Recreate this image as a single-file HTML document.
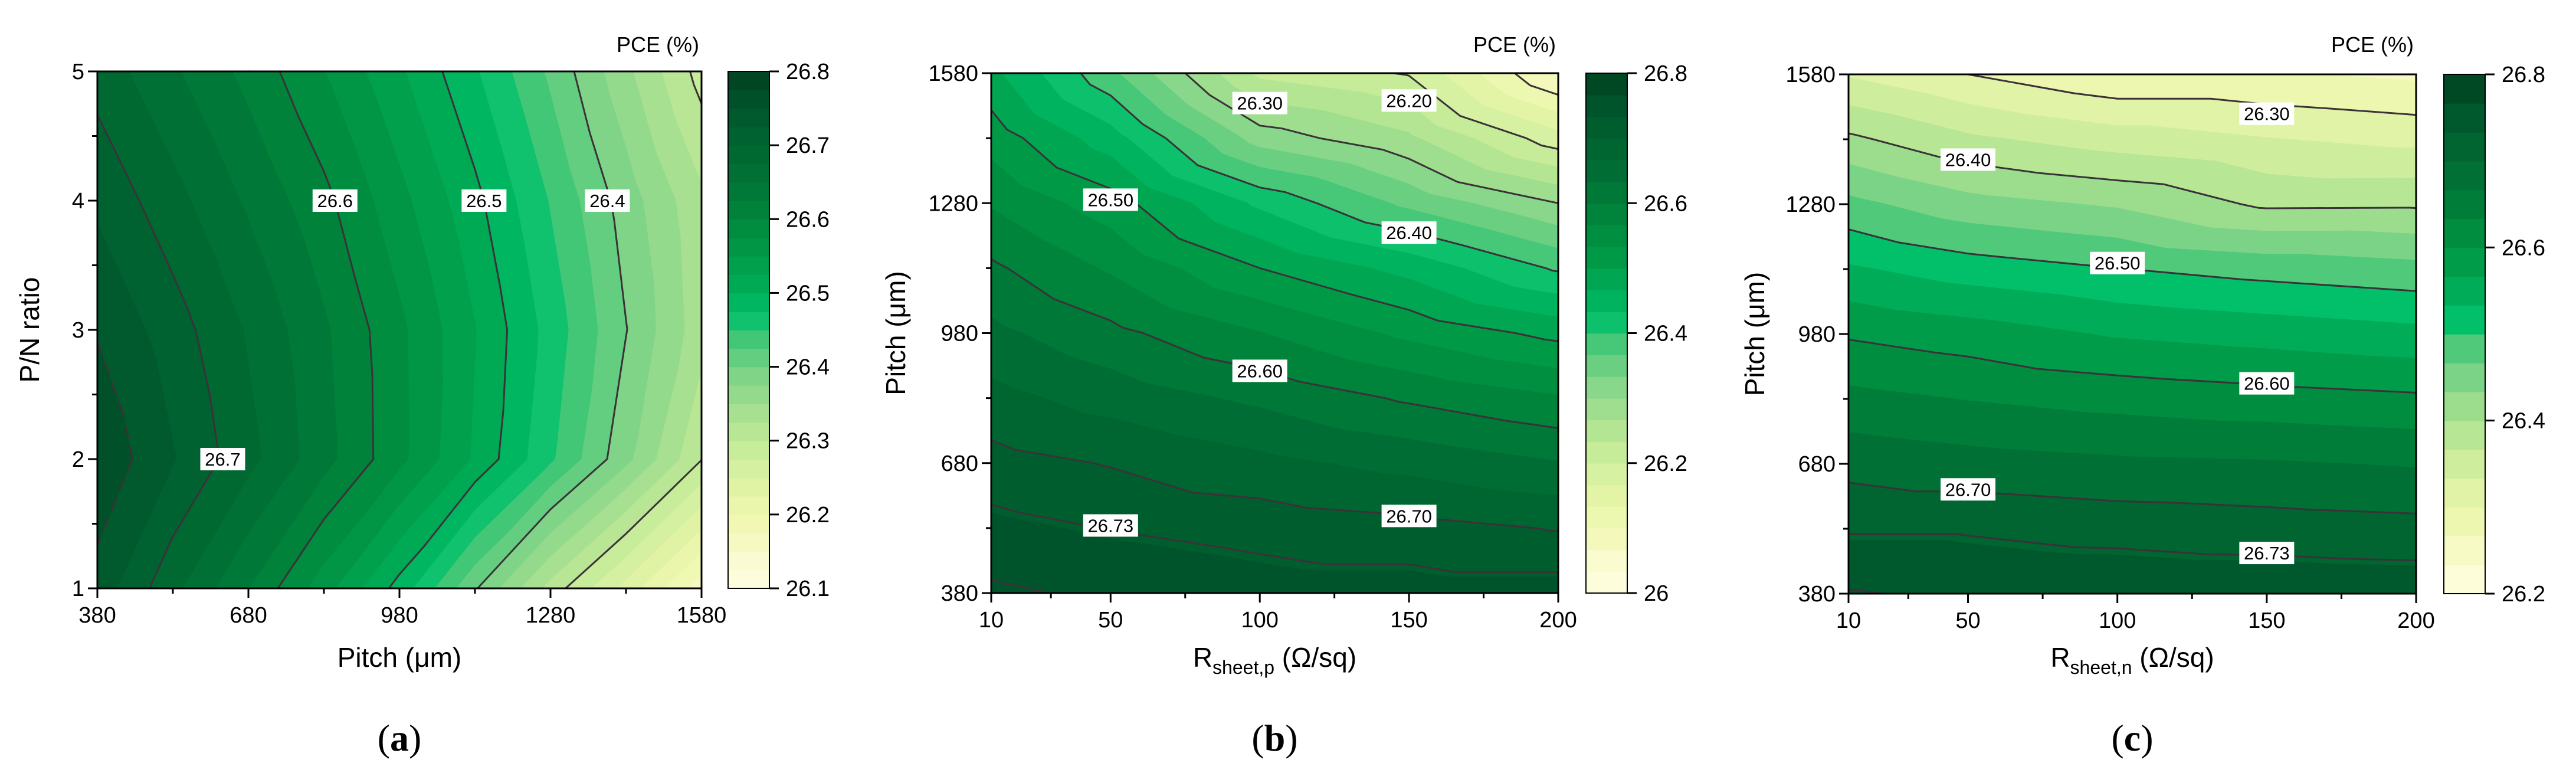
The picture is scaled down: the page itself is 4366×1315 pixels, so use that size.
<!DOCTYPE html>
<html><head><meta charset="utf-8">
<style>
html,body{margin:0;padding:0;background:#fff;}
svg{display:block;}
text{font-family:"Liberation Sans",sans-serif;fill:#000;}
</style></head>
<body>
<svg id="fig" width="4366" height="1315" viewBox="0 0 4366 1315" xmlns="http://www.w3.org/2000/svg">
<rect x="0" y="0" width="4366" height="1315" fill="#fff"/>
</svg>
<script>
// ---------- Panel (a) data ----------
const aX = [380,530,680,830,980,1130,1280,1430,1580];
const aY = [1,2,3,4,5];
const aZ = [
 [26.74,26.682,26.625,26.561,26.49,26.403,26.315,26.24,26.16],
 [26.77,26.727,26.683,26.634,26.582,26.521,26.454,26.382,26.301],
 [26.748,26.712,26.672,26.629,26.581,26.526,26.465,26.401,26.335],
 [26.72,26.684,26.646,26.607,26.558,26.507,26.448,26.388,26.33],
 [26.69,26.654,26.617,26.576,26.529,26.478,26.42,26.356,26.29]
];
const aLevels = [26.3,26.4,26.5,26.6,26.7];
const aDashed = [26.75];
const aXTicks = [380,680,980,1280,1580];
const aYTicks = [1,2,3,4,5];
const aCbTicks = [26.1,26.2,26.3,26.4,26.5,26.6,26.7,26.8];
const aLabelText = ["26.6","26.5","26.4","26.7"];
const aLabelX = [852,1148,1393,629];
const aLabelY = [4,4,4,2];

// ---------- Panel (b) data ----------
const bX = [10,50,100,150,200];
const bY = [380,530,680,830,980,1130,1280,1430,1580];
const bZ = [
 [26.765,26.755,26.745,26.745,26.745],
 [26.74,26.729,26.72,26.711,26.698],
 [26.712,26.698,26.676,26.656,26.635],
 [26.678,26.653,26.626,26.595,26.57],
 [26.642,26.609,26.568,26.525,26.49],
 [26.606,26.562,26.5,26.455,26.395],
 [26.563,26.515,26.426,26.358,26.3],
 [26.519,26.448,26.318,26.273,26.18],
 [26.475,26.375,26.225,26.197,26.06]
];
const bLevels = [26.1,26.2,26.3,26.4,26.5,26.6,26.7,26.73,26.76];
const bXTicks = [10,50,100,150,200];
const bYTicks = [380,680,980,1280,1580];
const bCbTicks = [26,26.2,26.4,26.6,26.8];
const bLabelText = ["26.30","26.20","26.50","26.40","26.60","26.73","26.70"];
const bLabelX = [100,150,50,150,100,50,150];
const bLabelY = [1511,1517,1288,1212,893,536,558];

// ---------- Panel (c) data ----------
const cX = [10,50,100,150,200];
const cY = [380,530,680,830,980,1130,1280,1430,1580];
const cZ = [
 [26.762,26.755,26.753,26.752,26.75],
 [26.727,26.727,26.72,26.715,26.711],
 [26.689,26.68,26.673,26.67,26.664],
 [26.643,26.632,26.621,26.613,26.606],
 [26.596,26.583,26.563,26.553,26.543],
 [26.538,26.517,26.501,26.488,26.478],
 [26.476,26.446,26.429,26.394,26.395],
 [26.407,26.373,26.35,26.335,26.324],
 [26.33,26.3,26.27,26.27,26.26]
];
const cLevels = [26.3,26.4,26.5,26.6,26.7,26.73,26.76];
const cXTicks = [10,50,100,150,200];
const cYTicks = [380,680,980,1280,1580];
const cCbTicks = [26.2,26.4,26.6,26.8];
const cLabelText = ["26.30","26.40","26.50","26.60","26.70","26.73"];
const cLabelX = [150,50,100,150,50,150];
const cLabelY = [1489,1383,1144,866,621,474];

// ---------- colormap ----------
const CMAP = ['#fffee3','#fafbd0','#f2f8b5','#e6f5a8','#d4f0a0','#bde895','#a0de8e','#7fd488','#52c97a','#00bf6a','#00aa55','#009a47','#008a3e','#007937','#006c33','#00612f','#00532b','#00401f'];
function hex(c){return [parseInt(c.slice(1,3),16),parseInt(c.slice(3,5),16),parseInt(c.slice(5,7),16)];}
function cmap(t){
  t=Math.max(0,Math.min(1,t));
  const f=t*(CMAP.length-1), i=Math.min(CMAP.length-2,Math.floor(f)), u=f-i;
  const a=hex(CMAP[i]), b=hex(CMAP[i+1]);
  return 'rgb('+a.map((v,k)=>Math.round(v+(b[k]-v)*u)).join(',')+')';
}
const NS='http://www.w3.org/2000/svg';
const svg=document.getElementById('fig');
function el(tag,attrs,parent){const e=document.createElementNS(NS,tag);for(const k in attrs)e.setAttribute(k,attrs[k]);(parent||svg).appendChild(e);return e;}
function fmt(v){return (Math.round(v*100)/100).toString();}

function clip(poly,fn){
  const out=[];
  for(let i=0;i<poly.length;i++){
    const p=poly[i], q=poly[(i+1)%poly.length];
    const fp=fn(p), fq=fn(q);
    if(fp>=0) out.push(p);
    if((fp>=0)!==(fq>=0)){
      const u=fp/(fp-fq);
      out.push([p[0]+(q[0]-p[0])*u,p[1]+(q[1]-p[1])*u,p[2]+(q[2]-p[2])*u]);
    }
  }
  return out;
}

function panel(c){
  const g=el('g',{});
  
  
  const px=v=>c.L+(v-c.X[0])/(c.X[c.X.length-1]-c.X[0])*(c.R-c.L);
  const py=v=>c.B-(v-c.Y[0])/(c.Y[c.Y.length-1]-c.Y[0])*(c.B-c.T);
  const step=(c.hi-c.lo)/c.nb;
  const tris=[];
  for(let j=0;j<c.Y.length-1;j++)for(let i=0;i<c.X.length-1;i++){
    const p00=[px(c.X[i]),py(c.Y[j]),c.Z[j][i]], p10=[px(c.X[i+1]),py(c.Y[j]),c.Z[j][i+1]];
    const p01=[px(c.X[i]),py(c.Y[j+1]),c.Z[j+1][i]], p11=[px(c.X[i+1]),py(c.Y[j+1]),c.Z[j+1][i+1]];
    tris.push([p00,p10,p11]); tris.push([p00,p11,p01]);
  }
  const fill=el('g',{},g);
  
  
  for(let b=-2;b<c.nb+2;b++){
    const lo=c.lo+b*step, hi=lo+step;
    const col=cmap((Math.max(0,Math.min(c.nb-1,b))+0.5)/c.nb);
    let d='';
    for(const t of tris){
      let p=t;
      if(b>-2) p=clip(p,v=>v[2]-lo);
      if(p.length<3) continue;
      if(b<c.nb+1) p=clip(p,v=>hi-v[2]);
      if(p.length<3) continue;
      d+='M'+p.map(v=>v[0].toFixed(1)+','+v[1].toFixed(1)).join('L')+'Z';
    }
    if(d){
      const pth=el('path',{d:d,fill:col,stroke:col,'stroke-width':1.2},fill);
      
      
    }
  }
  function lines(levels,dash){
    for(const lv of levels){
      let d='';
      for(const t of tris){
        const pts=[];
        for(let k=0;k<3;k++){
          const p=t[k],q=t[(k+1)%3];
          const sp=p[2]>=lv, sq=q[2]>=lv;
          if(sp!==sq){
            let u=(lv-p[2])/(q[2]-p[2]); if(!isFinite(u)) u=0;
            pts.push([p[0]+(q[0]-p[0])*u,p[1]+(q[1]-p[1])*u]);
          }
        }
        if(pts.length===2) d+='M'+pts[0][0].toFixed(1)+','+pts[0][1].toFixed(1)+'L'+pts[1][0].toFixed(1)+','+pts[1][1].toFixed(1);
      }
      if(d){
        const a={d:d,fill:'none',stroke:'#3b3238','stroke-width':3,'stroke-linecap':'round'};
        if(dash) a['stroke-dasharray']='22,14';
        const pth=el('path',a,g);
        
        
      }
    }
  }
  lines(c.levels,false);
  if(c.dashed) lines(c.dashed,true);
  for(let i=0;i<c.labText.length;i++){
    const x=px(c.labX[i]), y=py(c.labY[i]);
    const w=c.labText[i].length*17+8;
    const r=el('rect',{x:x-w/2,y:y-19,width:w,height:38,fill:'#fff'},g);
    
    
    const t=el('text',{x:x,y:y+11,'font-size':31,'text-anchor':'middle'},g);
    t.textContent=c.labText[i];
    
    
  }
  const fr=el('rect',{x:c.L,y:c.T,width:c.R-c.L,height:c.B-c.T,fill:'none',stroke:'#000','stroke-width':3},g);
  
  
  for(let i=0;i<c.xTicks.length;i++){
    const x=px(c.xTicks[i]);
    el('line',{x1:x,y1:c.B,x2:x,y2:c.B+16,stroke:'#000','stroke-width':3},g);
    const t=el('text',{x:x,y:c.B+58,'font-size':38,'text-anchor':'middle'},g);
    t.textContent=c.xTicks[i];
    
    
    if(i<c.xTicks.length-1){
      const xm=px((c.xTicks[i]+c.xTicks[i+1])/2);
      el('line',{x1:xm,y1:c.B,x2:xm,y2:c.B+9,stroke:'#000','stroke-width':3},g);
    }
  }
  for(let i=0;i<c.yTicks.length;i++){
    const y=py(c.yTicks[i]);
    el('line',{x1:c.L,y1:y,x2:c.L-16,y2:y,stroke:'#000','stroke-width':3},g);
    const t=el('text',{x:c.L-22,y:y+13,'font-size':38,'text-anchor':'end'},g);
    t.textContent=c.yTicks[i];
    
    
    if(i<c.yTicks.length-1){
      const ym=py((c.yTicks[i]+c.yTicks[i+1])/2);
      el('line',{x1:c.L,y1:ym,x2:c.L-9,y2:ym,stroke:'#000','stroke-width':3},g);
    }
  }
  const xt=el('text',{x:(c.L+c.R)/2,y:1130,'font-size':46,'text-anchor':'middle'},g);
  
  
  if(c.xSub){
    xt.appendChild(document.createTextNode('R'));
    const s=el('tspan',{'font-size':32,dy:12},xt); s.textContent=c.xSub;
    const s2=el('tspan',{dy:-12},xt); s2.textContent=' (\u03A9/sq)';
  } else xt.textContent=c.xTitle;
  const yt=el('text',{x:0,y:0,'font-size':46,'text-anchor':'middle',transform:'translate('+(c.yTitleX)+','+((c.T+c.B)/2)+') rotate(-90)'},g);
  yt.textContent=c.yTitle;
  
  
  const cb=el('g',{},g);
  
  
  const cy=v=>c.B-(v-c.lo)/(c.hi-c.lo)*(c.B-c.T);
  for(let b=0;b<c.nb;b++){
    const y1=cy(c.lo+(b+1)*step), y0=cy(c.lo+b*step);
    const col=cmap((b+0.5)/c.nb);
    el('rect',{x:c.cb0,y:y1,width:c.cb1-c.cb0,height:y0-y1+0.8,fill:col},cb);
  }
  el('rect',{x:c.cb0,y:c.T,width:c.cb1-c.cb0,height:c.B-c.T,fill:'none',stroke:'#000','stroke-width':2},cb);
  for(const v of c.cbTicks){
    const y=cy(v);
    el('line',{x1:c.cb1,y1:y,x2:c.cb1+16,y2:y,stroke:'#000','stroke-width':3},cb);
    const t=el('text',{x:c.cb1+28,y:y+13,'font-size':38},cb);
    t.textContent=fmt(v);
    
    
  }
  const pt=el('text',{x:c.R-4,y:88,'font-size':36,'text-anchor':'end'},g);
  pt.textContent='PCE (%)';
  
  
  const pl=el('text',{x:(c.L+c.R)/2,y:1272,'font-size':64,'text-anchor':'middle',style:'font-family:"Liberation Serif",serif'},g);
  pl.appendChild(document.createTextNode('('));
  const bb=el('tspan',{'font-weight':'bold'},pl); bb.textContent=c.id;
  pl.appendChild(document.createTextNode(')'));
  
  
}

panel({id:'a',X:aX,Y:aY,Z:aZ,levels:aLevels,dashed:aDashed,lo:26.1,hi:26.8,nb:28,
  L:165,R:1189,T:121,B:997,xTicks:aXTicks,yTicks:aYTicks,cbTicks:aCbTicks,
  labText:aLabelText,labX:aLabelX,labY:aLabelY,cb0:1234,cb1:1304,
  xTitle:'Pitch (\u03BCm)',yTitle:'P/N ratio',yTitleX:66});
panel({id:'b',X:bX,Y:bY,Z:bZ,levels:bLevels,lo:26.0,hi:26.8,nb:24,
  L:1680,R:2641,T:124,B:1005,xTicks:bXTicks,yTicks:bYTicks,cbTicks:bCbTicks,
  labText:bLabelText,labX:bLabelX,labY:bLabelY,cb0:2688,cb1:2758,
  xSub:'sheet,p',yTitle:'Pitch (\u03BCm)',yTitleX:1534});
panel({id:'c',X:cX,Y:cY,Z:cZ,levels:cLevels,lo:26.2,hi:26.8,nb:18,
  L:3133,R:4095,T:126,B:1006,xTicks:cXTicks,yTicks:cYTicks,cbTicks:cCbTicks,
  labText:cLabelText,labX:cLabelX,labY:cLabelY,cb0:4142,cb1:4212,
  xSub:'sheet,n',yTitle:'Pitch (\u03BCm)',yTitleX:2990});
</script>
</body></html>
